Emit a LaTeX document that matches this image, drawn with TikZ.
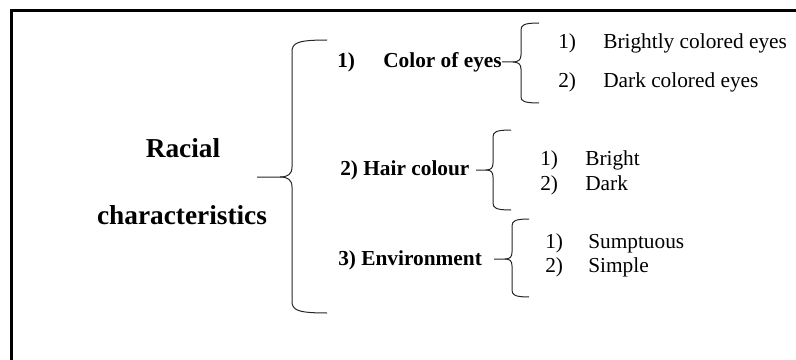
\documentclass[tikz,border=0pt]{standalone}
\usepackage{fontspec}
\setmainfont{Liberation Serif}
\begin{document}
\begin{tikzpicture}[x=0.75pt, y=-0.75pt,
  root/.style={font=\fontsize{20.5}{24}\selectfont\bfseries, inner sep=0pt},
  head/.style={font=\fontsize{16}{18}\selectfont\bfseries, anchor=west, inner sep=0pt,
    text height=1.9ex, text depth=.2ex},
  item/.style={font=\fontsize{16}{18}\selectfont, anchor=west, inner sep=0pt,
    text height=1.9ex, text depth=.2ex},
  brace/.style={line width=0.75pt, black!85}]
  \useasboundingbox (0,0) rectangle (796,360);
  % frame (only top and left edges are visible)
  \draw[line width=2.3pt] (796,10.5) -- (11.5,10.5) -- (11.5,360);

  % root
  \node[root] (racial) at (183,148) {Racial};
  \node[root] (chars)  at (182,215) {characteristics};
  \coordinate (rootTip) at (257,177);

  % first level
  \node[head] (n1)  at (337,62)  {1)};
  \node[head] (eyes) at (383,62) {Color of eyes};
  \node[head] (hair) at (340,170) {2) Hair colour};
  \node[head] (env)  at (338,260) {3) Environment};
  \coordinate (eyesTip) at (513,62);
  \coordinate (hairTip) at (476,170);
  \coordinate (envTip)  at (494,259);

  % second level
  \node[item] (e1) at (558,43)  {1)};
  \node[item] (e1t) at (603,43) {Brightly colored eyes};
  \node[item] (e2) at (558,82)  {2)};
  \node[item] (e2t) at (603,82) {Dark colored eyes};
  \node[item] (h1) at (540,160) {1)};
  \node[item] (h1t) at (585,160) {Bright};
  \node[item] (h2) at (540,185) {2)};
  \node[item] (h2t) at (585,185) {Dark};
  \node[item] (v1) at (545,243) {1)};
  \node[item] (v1t) at (588,243) {Sumptuous};
  \node[item] (v2) at (545,267) {2)};
  \node[item] (v2t) at (588,267) {Simple};

  % big brace
  \draw[brace] (rootTip) -- (280,177) .. controls (288,177) and (292,174) .. (292,167)
    -- (292,52) .. controls (292,43) and (297,40) .. (327,40);
  \draw[brace] (280,177) .. controls (288,177) and (292,180) .. (292,187)
    -- (292,301) .. controls (292,310) and (297,313) .. (327,313);

  % eyes brace
  \draw[brace] (eyes.east) -- (eyesTip) .. controls (518,62) and (521,60) .. (521,55)
    -- (521,30) .. controls (521,25) and (524,23) .. (539,23);
  \draw[brace] (eyesTip) .. controls (518,62) and (521,64) .. (521,69)
    -- (521,97) .. controls (521,101) and (524,103) .. (539,103);

  % hair brace
  \draw[brace] (hairTip) -- (486,170) .. controls (491,170) and (493,168) .. (493,163)
    -- (493,137) .. controls (493,132) and (496,130) .. (511,130);
  \draw[brace] (486,170) .. controls (491,170) and (493,172) .. (493,177)
    -- (493,203) .. controls (493,208) and (496,210) .. (511,210);

  % environment brace
  \draw[brace] (envTip) -- (505,259) .. controls (510,259) and (512,257) .. (512,252)
    -- (512,226) .. controls (512,221) and (515,219) .. (529,219);
  \draw[brace] (505,259) .. controls (510,259) and (512,261) .. (512,266)
    -- (512,290) .. controls (512,295) and (515,297) .. (529,297);
\end{tikzpicture}
\end{document}
